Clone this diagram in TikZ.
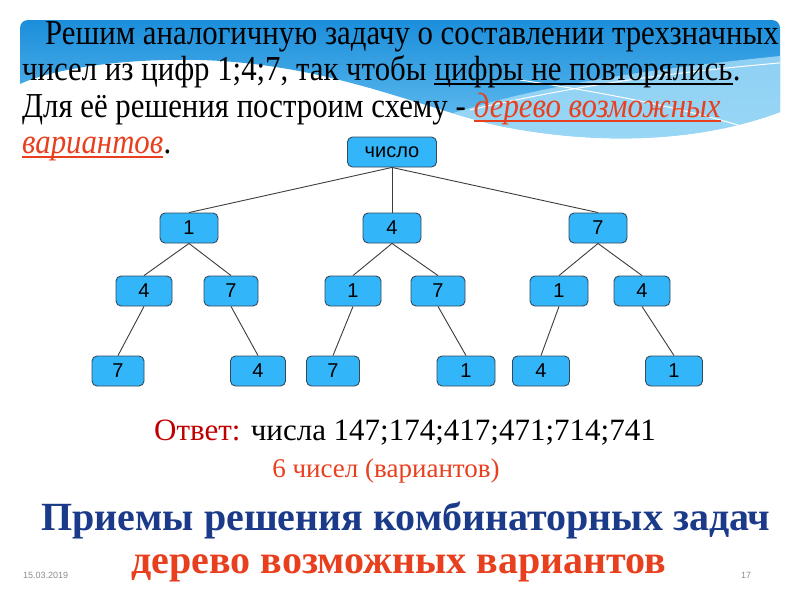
\documentclass[tikz,border=0pt]{standalone}
\usepackage{fontspec}
\setmainfont{Liberation Serif}
\newfontfamily\slideserif[FakeStretch=0.88]{Liberation Serif}
\newfontfamily\treefont{Liberation Sans}
\usetikzlibrary{positioning, calc}
\definecolor{colHdrTop}{HTML}{1B8EDB}
\definecolor{colHdrBot}{HTML}{6EC4F2}
\definecolor{colHdrBand}{HTML}{A6DDF8}
\definecolor{colNode}{HTML}{33B5FA}
\definecolor{colNodeEdge}{HTML}{34495A}
\definecolor{colEdge}{HTML}{3C3C3C}
\definecolor{colRedText}{HTML}{E8401E}
\definecolor{colAnswer}{HTML}{C00000}
\definecolor{colTitle}{HTML}{1B3A8A}
\definecolor{colFoot}{HTML}{8C8C8C}

% label text of the tree boxes
\newcommand\treelabel[1]{{\treefont\fontsize{20}{22}\selectfont #1}}

\begin{document}
\begin{tikzpicture}[
    x=1pt, y=-1pt,
    treenode/.style={
        rectangle, rounded corners=5pt, draw=colNodeEdge,
        line width=0.9pt, fill=colNode, minimum height=30pt,
        inner sep=0pt
    },
    treeedge/.style={draw=colEdge, line width=0.9pt},
    bodytext/.style={anchor=base west, inner sep=0pt,
        font=\slideserif\fontsize{35}{38}\selectfont},
    redtext/.style={bodytext, text=colRedText,
        font=\slideserif\itshape\fontsize{35}{38}\selectfont},
    underline/.style={line width=2.6pt},
    foottext/.style={anchor=base west, inner sep=0pt, text=colFoot,
        font=\treefont\fontsize{9}{10}\selectfont}
]
    \useasboundingbox (0,0) rectangle (800,600);
    \fill[white] (0,0) rectangle (800,600);

    % --- HEADER BANNER ---
    \def\hdrpath{(20,84) [rounded corners=8pt] -- (20,20) -- (780,20)
        [sharp corners] -- (780,112)
        .. controls (700,142) and (600,146) .. (500,126)
        .. controls (420,108) and (330,64) .. (200,60)
        .. controls (110,58) and (45,72) .. (20,84) -- cycle}
    \shade[top color=colHdrTop, bottom color=colHdrBot] \hdrpath;
    \begin{scope}
        \clip \hdrpath;
        \fill[colHdrBand, opacity=0.8] (360,150) .. controls (480,90) and (640,70) .. (790,55)
            -- (790,160) -- cycle;
        \draw[white, line width=1pt] (470,110) .. controls (600,80) and (700,70) .. (790,62);
        \draw[white, line width=1pt] (520,80) .. controls (620,95) and (700,112) .. (760,132);
    \end{scope}

    % --- TASK TEXT ---
    \node[bodytext] (line1) at (45,44)
        {Решим аналогичную задачу о составлении трехзначных};
    \node[bodytext] (line2) at (22,80) {чисел из цифр 1;4;7, так чтобы\ \mbox{}};
    \node[bodytext] (norepeat) at (line2.base east) {цифры не повторялись};
    \node[bodytext] (line2end) at (norepeat.base east) {.};
    \node[bodytext] (line3) at (22,117) {Для её решения построим схему -\ \mbox{}};
    \node[redtext] (tree1) at (line3.base east) {дерево возможных};
    \node[redtext] (tree2) at (22,153) {вариантов};
    \node[bodytext] (line4end) at (tree2.base east) {.};

    % underlines
    \draw[underline] ($(norepeat.base west)+(0,4)$) -- ($(norepeat.base east)+(0,4)$);
    \draw[underline, colRedText] ($(tree1.base west)+(0,4)$) -- ($(tree1.base east)+(0,4)$);
    \draw[underline, colRedText] ($(tree2.base west)+(0,4)$) -- ($(tree2.base east)+(0,4)$);

    % --- TREE ---
    \node[treenode, minimum width=89pt] (root) at (392,152) {\treelabel{число}};
    \foreach \name/\px/\py/\w/\lab in {
        a/189/228/58/1, b/392/228/58/4, c/598/228/58/7,
        aa/144/291/56/4, ab/231/291/54/7,
        ba/353/291/56/1, bb/438/291/54/7,
        ca/559/291/58/1, cb/642/291/56/4,
        aaa/118/371/52/7, aba/258/371/55/4,
        baa/333/371/53/7, bba/466/371/58/1,
        caa/541/371/57/4, cba/674/371/57/1%
    } {
        \node[treenode, minimum width=\w pt] (\name) at (\px,\py) {\treelabel{\lab}};
    }
    \foreach \from/\to in {
        root/a, root/b, root/c,
        a/aa, a/ab, b/ba, b/bb, c/ca, c/cb,
        aa/aaa, ab/aba, ba/baa, bb/bba, ca/caa, cb/cba%
    } {
        \draw[treeedge] (\from.south) -- (\to.north);
    }

    % --- ANSWER ---
    \node[bodytext, font=\fontsize{31}{34}\selectfont] (answer) at (154,440)
        {\textcolor{colAnswer}{Ответ:} числа 147;174;417;471;714;741};
    \node[anchor=base, inner sep=0pt, text=colRedText,
        font=\fontsize{27}{30}\selectfont] (count) at (386,477)
        {6 чисел (вариантов)};

    % --- TITLE ---
    \node[anchor=base, inner sep=0pt, text=colTitle,
        font=\bfseries\fontsize{40}{44}\selectfont] (title1) at (406,530)
        {Приемы решения комбинаторных задач};
    \node[anchor=base, inner sep=0pt, text=colRedText,
        font=\bfseries\fontsize{40}{44}\selectfont] (title2) at (399,573)
        {дерево возможных вариантов};

    % --- FOOTER ---
    \node[foottext] (date) at (23,578) {15.03.2019};
    \node[foottext] (page) at (741,578) {17};
\end{tikzpicture}
\end{document}
